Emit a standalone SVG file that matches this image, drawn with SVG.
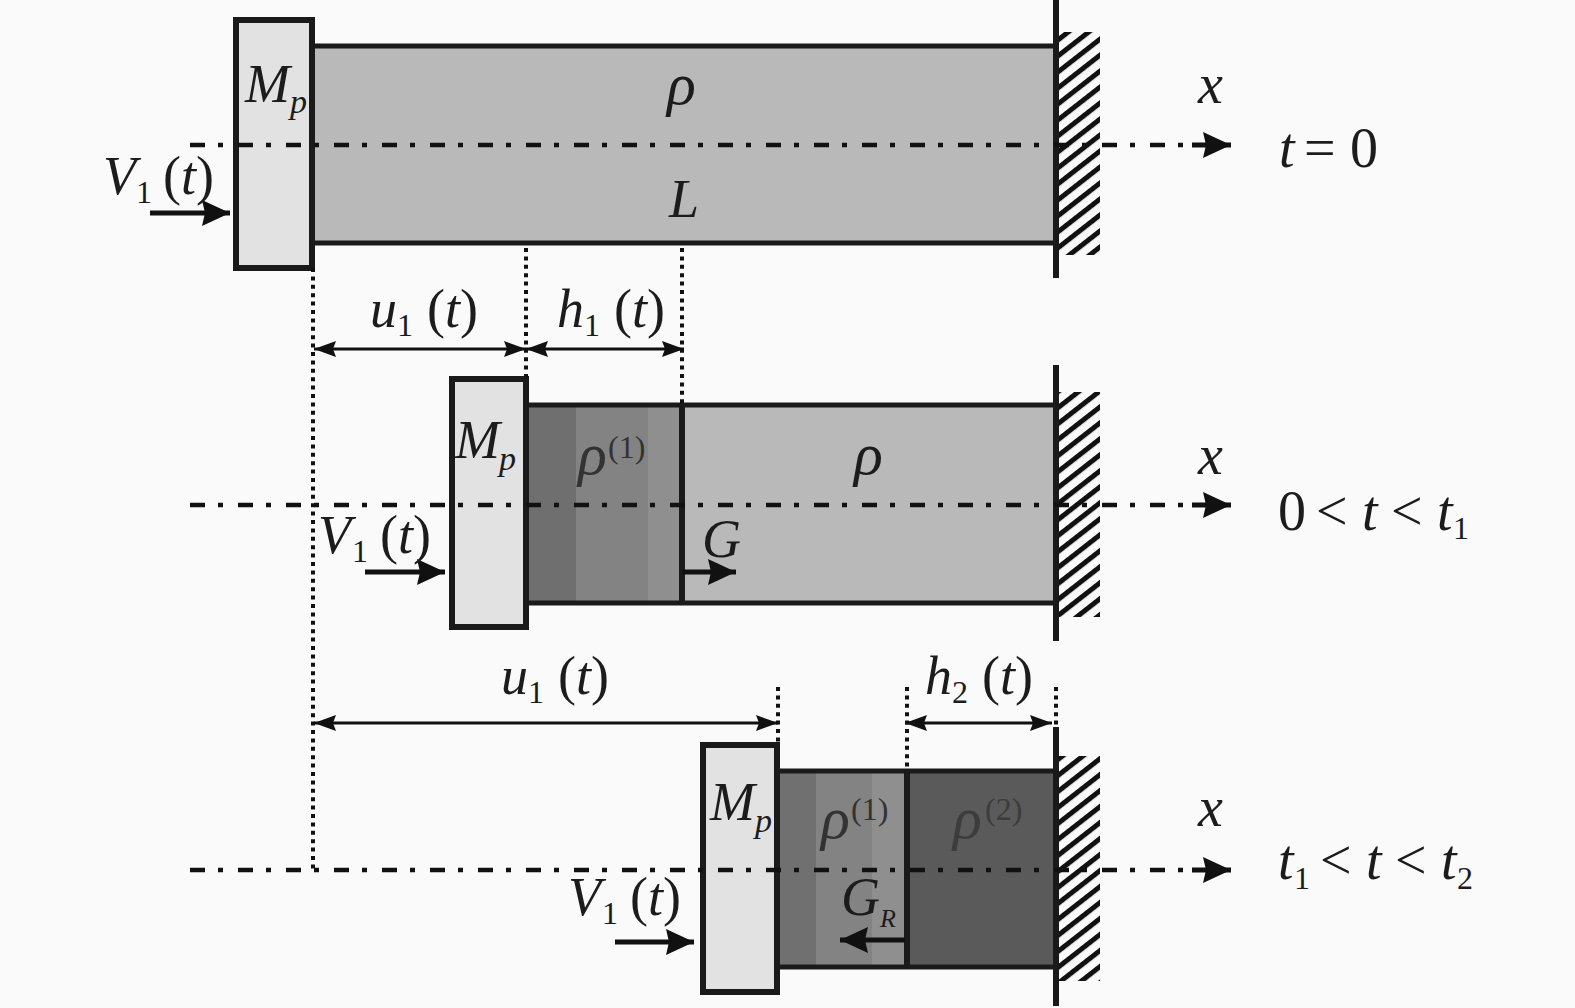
<svg xmlns="http://www.w3.org/2000/svg" width="1575" height="1008" viewBox="0 0 1575 1008">
<defs>
<marker id="ah" markerUnits="userSpaceOnUse" markerWidth="30" markerHeight="28" refX="28" refY="13" orient="auto"><path d="M0 0L28 13L0 26L3 13Z" fill="#111"/></marker>
<marker id="dh" markerUnits="userSpaceOnUse" markerWidth="24" markerHeight="18" refX="22" refY="8" orient="auto-start-reverse"><path d="M0 0L22 8L0 16L3 8Z" fill="#111"/></marker>
<pattern id="hat" patternUnits="userSpaceOnUse" width="12.6" height="12.6" patternTransform="rotate(-38)"><rect width="12.6" height="5" y="0" fill="#111"/></pattern>
</defs>
<style>
.m{fill:#e2e2e2;stroke:#1a1a1a;stroke-width:6}
.b{stroke:#1a1a1a;stroke-width:5;fill:none}
.w{stroke:#1a1a1a;stroke-width:6;fill:none}
.axis{stroke:#111;stroke-width:4.5;fill:none;stroke-dasharray:15 13 5 15}
.dot{stroke:#111;stroke-width:4;fill:none;stroke-dasharray:4 4.4}
.arr{stroke:#111;stroke-width:5;fill:none}
.dim{stroke:#111;stroke-width:3;fill:none}
text{font-family:"Liberation Serif","Times New Roman",serif;font-size:54px;font-style:italic;fill:#1c1c1c}
.u{font-style:normal}
.big{font-size:56px}
.rho{font-size:60px}
.p{font-size:34px}
.n{font-style:normal;font-size:32px}
.d1{fill:#333}
.d2{fill:#3c3c3c}
</style>
<rect width="1575" height="1008" fill="#fafafa"/>
<g id="bar-top">
<rect x="312" y="45" width="744" height="199" fill="#b9b9b9"/>
<path class="b" d="M312 46H1056M312 243H1056"/>
</g>
<g id="bar-middle">
<rect x="526" y="405" width="530" height="198" fill="#b9b9b9"/>
<rect x="526" y="405" width="50" height="198" fill="#6f6f6f"/>
<rect x="576" y="405" width="72" height="198" fill="#838383"/>
<rect x="648" y="405" width="34" height="198" fill="#8f8f8f"/>
<path class="b" d="M526 405H1056M526 603H1056"/>
<path class="w" d="M682 405V603"/>
</g>
<g id="bar-bottom">
<rect x="776" y="771" width="131" height="196" fill="#707070"/>
<rect x="816" y="771" width="56" height="196" fill="#838383"/>
<rect x="872" y="771" width="35" height="196" fill="#8f8f8f"/>
<rect x="907" y="771" width="149" height="196" fill="#5a5a5a"/>
<path class="b" d="M776 771H1056M776 967H1056"/>
<path class="w" d="M907 771V967"/>
</g>
<g id="mass-top"><rect class="m" x="236" y="20" width="76" height="248"/></g>
<g id="mass-middle"><rect class="m" x="452" y="379" width="74" height="248"/></g>
<g id="mass-bottom"><rect class="m" x="703" y="745" width="74" height="247"/></g>
<g id="wall-top"><rect x="1058" y="32" width="42" height="223" fill="url(#hat)"/><path class="w" d="M1056 0V278"/></g>
<g id="wall-middle"><rect x="1058" y="392" width="42" height="225" fill="url(#hat)"/><path class="w" d="M1056 365V641"/></g>
<g id="wall-bottom"><rect x="1058" y="756" width="42" height="225" fill="url(#hat)"/><path class="w" d="M1056 727V1006"/></g>
<g id="connectors">
<path class="axis" d="M190 145H1190"/><path class="arr" d="M1192 145H1231" marker-end="url(#ah)"/>
<path class="axis" d="M190 505H1190"/><path class="arr" d="M1192 505H1231" marker-end="url(#ah)"/>
<path class="axis" d="M190 870H1190"/><path class="arr" d="M1192 870H1231" marker-end="url(#ah)"/>
<path class="dot" d="M313 268V870M526 248V379M682 248V405M778 687V745M907 687V771M1056 687V727"/>
<path class="dim" d="M314 349H526" marker-start="url(#dh)" marker-end="url(#dh)"/>
<path class="dim" d="M526 349H684" marker-start="url(#dh)" marker-end="url(#dh)"/>
<path class="dim" d="M314 723H778" marker-start="url(#dh)" marker-end="url(#dh)"/>
<path class="dim" d="M905 723H1052" marker-start="url(#dh)" marker-end="url(#dh)"/>
<path class="arr" d="M150 213H230" marker-end="url(#ah)"/>
<path class="arr" d="M365 572H445" marker-end="url(#ah)"/>
<path class="arr" d="M615 942H694" marker-end="url(#ah)"/>
<path class="arr" d="M682 572H736" marker-end="url(#ah)"/>
<path class="arr" d="M905 940H840" marker-end="url(#ah)"/>
</g>
<g id="labels">
<text x="245" y="102">M</text><text class="p" x="290" y="113">p</text>
<text class="rho" x="667" y="104">ρ</text>
<text x="669" y="217">L</text>
<text x="103" y="194">V</text><text class="n" x="136" y="203">1</text><text x="163" y="194"><tspan class="u">(</tspan>t<tspan class="u">)</tspan></text>
<text class="big" x="1198" y="103">x</text>
<text class="big" x="1279" y="167">t</text><text class="big u" x="1304" y="167">=</text><text class="big u" x="1350" y="167">0</text>
<text x="370" y="327">u</text><text class="n" x="397" y="336">1</text><text x="427" y="327"><tspan class="u">(</tspan>t<tspan class="u">)</tspan></text>
<text x="557" y="327">h</text><text class="n" x="584" y="336">1</text><text x="614" y="327"><tspan class="u">(</tspan>t<tspan class="u">)</tspan></text>
<text x="455" y="458">M</text><text class="p" x="499" y="470">p</text>
<text class="rho d1" x="578" y="474">ρ</text><text class="n d1" x="608" y="458">(1)</text>
<text class="rho" x="854" y="474">ρ</text>
<text x="318" y="553">V</text><text class="n" x="352" y="562">1</text><text x="380" y="553"><tspan class="u">(</tspan>t<tspan class="u">)</tspan></text>
<text x="702" y="557">G</text>
<text class="big" x="1198" y="474">x</text>
<text class="big u" x="1278" y="530">0</text><text class="big u" x="1316" y="530">&lt;</text><text class="big" x="1362" y="530">t</text><text class="big u" x="1391" y="530">&lt;</text><text class="big" x="1437" y="530">t</text><text class="n" x="1453" y="539">1</text>
<text x="501" y="694">u</text><text class="n" x="528" y="703">1</text><text x="558" y="694"><tspan class="u">(</tspan>t<tspan class="u">)</tspan></text>
<text x="925" y="694">h</text><text class="n" x="952" y="703">2</text><text x="982" y="694"><tspan class="u">(</tspan>t<tspan class="u">)</tspan></text>
<text x="710" y="820">M</text><text class="p" x="755" y="832">p</text>
<text class="rho d1" x="821" y="838">ρ</text><text class="n d1" x="851" y="820">(1)</text>
<text class="rho d2" x="953" y="838">ρ</text><text class="n d2" x="985" y="820">(2)</text>
<text x="841" y="915">G</text><text x="880" y="927" style="font-size:26px">R</text>
<text x="568" y="915">V</text><text class="n" x="602" y="924">1</text><text x="630" y="915"><tspan class="u">(</tspan>t<tspan class="u">)</tspan></text>
<text class="big" x="1198" y="826">x</text>
<text class="big" x="1278" y="879">t</text><text class="n" x="1294" y="889">1</text><text class="big u" x="1320" y="879">&lt;</text><text class="big" x="1366" y="879">t</text><text class="big u" x="1395" y="879">&lt;</text><text class="big" x="1441" y="879">t</text><text class="n" x="1457" y="889">2</text>
</g>
</svg>
